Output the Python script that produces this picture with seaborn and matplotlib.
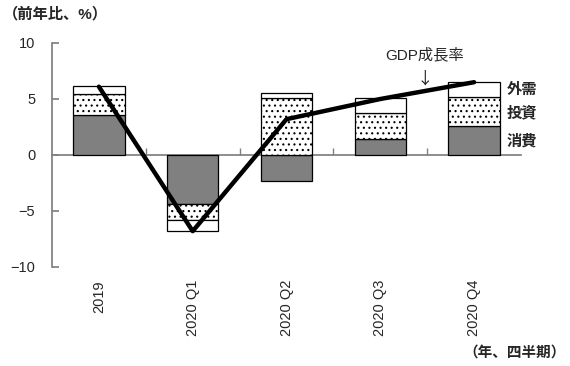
import numpy as np
import matplotlib
matplotlib.use("Agg")
import matplotlib.pyplot as plt
from matplotlib.ticker import FixedLocator
import seaborn as sns

# データ（前年比、%）
periods = ["2019", "2020 Q1", "2020 Q2", "2020 Q3", "2020 Q4"]
consumption = [3.6, -4.4, -2.3, 1.4, 2.6]    # 消費
investment = [1.85, -1.4, 5.1, 2.35, 2.6]    # 投資
external = [0.7, -1.0, 0.4, 1.35, 1.3]       # 外需
gdp = [6.1, -6.8, 3.2, 5.0, 6.5]             # GDP成長率
y_ticks = [-10, -5, 0, 5, 10]

sns.set_theme(style="white")
plt.rcParams["font.family"] = ["Liberation Sans", "Noto Sans CJK JP"]
plt.rcParams["hatch.linewidth"] = 0.8

fig = plt.figure(figsize=(5.7, 3.66), dpi=100)
ax = fig.add_axes([52 / 570, 1 - 267 / 366, (521 - 52) / 570, (267 - 43) / 366])

# 折れ線（GDP）
sns.lineplot(x=periods, y=gdp, color="black", linewidth=3.2, sort=False,
             errorbar=None, ax=ax, zorder=5)

# 積み上げ棒（正負別に積み上げ）
pos_base = np.zeros(len(periods))
neg_base = np.zeros(len(periods))
layers = [(consumption, "#808080", None),
          (investment, "white", "..."),
          (external, "white", None)]
for vals, face, hatch in layers:
    v = np.asarray(vals, dtype=float)
    base = np.where(v >= 0, pos_base, neg_base)
    sns.barplot(x=periods, y=v, bottom=base, color=face, hatch=hatch,
                edgecolor="black", linewidth=0.9, width=0.55, saturation=1,
                errorbar=None, ax=ax)
    pos_base += np.clip(v, 0, None)
    neg_base += np.clip(v, None, 0)

# 軸
sns.despine(ax=ax, top=True, right=True)
ax.spines["left"].set_color("#808080")
ax.spines["bottom"].set_position(("data", 0))
ax.spines["bottom"].set_color("#808080")
ax.spines["bottom"].set_zorder(0.5)
ax.set_ylim(-10, 10)
ax.set_yticks(y_ticks)
ax.tick_params(axis="y", direction="in", length=5, color="#808080", pad=12,
               labelsize=10.5, left=True)
ax.tick_params(axis="x", which="major", direction="in", length=0, pad=90,
               labelsize=10.5, labelrotation=90, bottom=True)
ax.xaxis.set_minor_locator(FixedLocator([0.5, 1.5, 2.5, 3.5]))
ax.tick_params(axis="x", which="minor", direction="in", length=5,
               color="#808080", bottom=True)
ax.set_xlabel("")
ax.set_ylabel("")

# ラベル
ax.text(4.35, 5.85, "外需", fontsize=11, fontweight="bold", va="center", ha="left")
ax.text(4.35, 3.75, "投資", fontsize=11, fontweight="bold", va="center", ha="left")
ax.text(4.35, 1.2, "消費", fontsize=11, fontweight="bold", va="center", ha="left")
ax.text(3.47, 8.9, "GDP成長率", fontsize=11, va="center", ha="center")
ax.text(3.47, 6.8, "↓", fontsize=12, va="center", ha="center",
        family=["Noto Sans CJK JP", "DejaVu Sans"])

fig.text(3 / 570, 1 - 14 / 366, "（前年比、%）", fontsize=11, fontweight="bold",
         va="center", ha="left")
fig.text(566 / 570, 1 - 353 / 366, "（年、四半期）", fontsize=10.5, fontweight="bold",
         va="center", ha="right")

fig.savefig("out.png", dpi=100)
